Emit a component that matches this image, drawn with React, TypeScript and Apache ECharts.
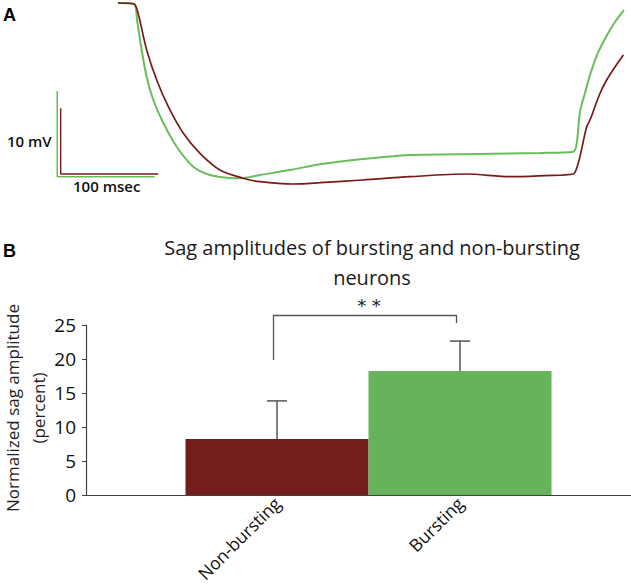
import React, { useEffect, useRef } from "react";
import * as echarts from "echarts";

// ---------- Panel A: voltage traces (time in ms, voltage in mV rel. to rest) ----------
const greenTime = [0, 16.4, 19.5, 24.3, 29.4, 36.2, 46.5, 60.2, 77.2, 94.4, 111.5, 125.1, 145.6, 176.4, 207.2, 248.2, 299.5, 367.9, 432.8, 467, 470.5, 473.8, 479, 484.1, 491.3, 500.5, 509.7, 518.9];
const greenVolt = [0, -0.12, -1.98, -5.48, -8.63, -11.32, -14.0, -16.77, -19.1, -20.07, -20.39, -20.46, -20.07, -19.49, -18.82, -18.24, -17.74, -17.62, -17.5, -17.35, -16.37, -12.72, -10.5, -8.4, -6.07, -3.97, -2.22, -0.82];

const redTime = [0, 16.4, 20.5, 29.4, 39.7, 51.6, 67, 84.1, 104.6, 128.5, 145.6, 179.5, 207.2, 251.3, 299.5, 357.6, 402.1, 437.9, 467, 470.5, 473.8, 480.7, 484.1, 494.4, 501.2, 509.7, 518.3];
const redVolt = [0, -0.15, -1.52, -7.15, -11.72, -15.78, -19.83, -22.88, -25.42, -26.68, -27.2, -27.55, -27.35, -26.94, -26.44, -26.03, -26.44, -26.26, -26.03, -25.11, -23.39, -18.83, -17.81, -13.74, -11.72, -9.74, -7.91];

// scale bars: 10 mV x 100 msec, origin = [time, voltage] of the corner
const scaleBarMV = 10;
const scaleBarMS = 100;
const greenBarOrigin = [-62.3, -20.27];
const redBarOrigin = [-58.8, -26.03];

// ---------- Panel B: bar chart ----------
const categories = ["Non-bursting", "Bursting"];
const means = [8.24, 18.24];
const errors = [5.6, 4.4];
const yTicks = { min: 0, max: 25, interval: 5 };
// significance bracket: [leftCat, rightCat, leftLegBottom, rightLegBottom, top]
const bracket = [0, 1, 19.85, 25.3, 26.4];
const sigLabel = "* *";

const GREEN_LINE = "#6abd5b";
const RED_LINE = "#781a1a";
const GREEN_BAR = "#67b35c";
const RED_BAR = "#731d1d";
const FONT = "Open Sans";

// panel A geometry
const A_H = 188.5;
const GREEN_PX_PER_MV = 8.57;
const RED_PX_PER_MV = 6.57;
const PX_PER_MS = 0.975;
const T_MIN = -70;
const T_MAX = 530;

function zip(a: number[], b: number[]) {
  return a.map((v, i) => [v, b[i]]);
}
function scaleBar(o: number[]) {
  return [
    [o[0], o[1] + scaleBarMV],
    [o[0], o[1]],
    [o[0] + scaleBarMS, o[1]],
  ];
}

export default function App() {
  const ref = useRef<HTMLDivElement>(null);
  useEffect(() => {
    if (!ref.current) return;
    const chart = echarts.init(ref.current, null, { renderer: "svg" });
    const option: any = {
      animation: false,
      backgroundColor: "#ffffff",
      title: {
        text: "Sag amplitudes of bursting and non-bursting\nneurons",
        left: 367,
        top: 227,
        textAlign: "center",
        textStyle: {
          fontFamily: FONT,
          fontSize: 20,
          fontWeight: "normal",
          color: "#1a1a1a",
          lineHeight: 30,
        },
      },
      grid: [
        { left: 118 + T_MIN * PX_PER_MS, top: 3, width: (T_MAX - T_MIN) * PX_PER_MS, height: A_H, outerBoundsMode: "none", containLabel: false },
        { left: 86, top: 325, width: 545, height: 170, outerBoundsMode: "none", containLabel: false },
        { left: 185.5, top: 325, width: 366, height: 170, outerBoundsMode: "none", containLabel: false },
      ],
      xAxis: [
        { type: "value", gridIndex: 0, min: T_MIN, max: T_MAX, show: false },
        {
          type: "value",
          gridIndex: 1,
          min: 0,
          max: 1,
          axisLine: { show: true, lineStyle: { color: "#404040", width: 1.2 } },
          axisTick: { show: false },
          axisLabel: { show: false },
          splitLine: { show: false },
        },
        {
          type: "category",
          gridIndex: 2,
          data: categories,
          axisLine: { show: false },
          axisTick: { show: false },
          axisLabel: {
            rotate: 45,
            margin: 5,
            fontFamily: FONT,
            fontSize: 17.5,
            color: "#111",
            interval: 0,
          },
        },
      ],
      yAxis: [
        { type: "value", gridIndex: 0, min: -A_H / GREEN_PX_PER_MV, max: 0, show: false },
        { type: "value", gridIndex: 0, min: -A_H / RED_PX_PER_MV, max: 0, show: false },
        {
          type: "value",
          gridIndex: 1,
          min: yTicks.min,
          max: yTicks.max,
          interval: yTicks.interval,
          axisLine: { show: true, lineStyle: { color: "#404040", width: 1.2 } },
          axisTick: { show: true, length: 4, lineStyle: { color: "#404040" } },
          axisLabel: { fontFamily: FONT, fontSize: 19, color: "#111", margin: 10 },
          splitLine: { show: false },
        },
        { type: "value", gridIndex: 2, min: yTicks.min, max: yTicks.max, show: false },
      ],
      graphic: [
        { type: "text", left: 3, top: 6, style: { text: "A", font: "bold 18px 'Liberation Sans', Arial", fill: "#000" } },
        { type: "text", left: 3, top: 242, style: { text: "B", font: "bold 18px 'Liberation Sans', Arial", fill: "#000" } },
        { type: "text", left: 7, top: 133, style: { text: "10 mV", font: "600 15px 'Open Sans'", fill: "#111" } },
        { type: "text", left: 73, top: 178, style: { text: "100 msec", font: "600 15px 'Open Sans'", fill: "#111" } },
        {
          type: "text",
          x: 25,
          y: 408,
          rotation: Math.PI / 2,
          style: {
            text: "Normalized sag amplitude\n(percent)",
            font: "17px 'Open Sans'",
            fill: "#222",
            align: "center",
            verticalAlign: "middle",
            lineHeight: 26,
          },
        },
      ],
      series: [
        {
          type: "line",
          xAxisIndex: 0,
          yAxisIndex: 0,
          data: zip(greenTime, greenVolt),
          showSymbol: false,
          smooth: 0.3,
          clip: false,
          lineStyle: { color: GREEN_LINE, width: 2 },
        },
        {
          type: "line",
          xAxisIndex: 0,
          yAxisIndex: 1,
          data: zip(redTime, redVolt),
          showSymbol: false,
          smooth: 0.3,
          clip: false,
          lineStyle: { color: RED_LINE, width: 1.7 },
        },
        {
          type: "line",
          xAxisIndex: 0,
          yAxisIndex: 0,
          data: scaleBar(greenBarOrigin),
          showSymbol: false,
          clip: false,
          lineStyle: { color: GREEN_LINE, width: 1.6 },
        },
        {
          type: "line",
          xAxisIndex: 0,
          yAxisIndex: 1,
          data: scaleBar(redBarOrigin),
          showSymbol: false,
          clip: false,
          lineStyle: { color: RED_LINE, width: 1.4 },
        },
        {
          type: "bar",
          xAxisIndex: 2,
          yAxisIndex: 3,
          barWidth: "100%",
          barCategoryGap: "0%",
          data: means.map((v, i) => ({
            value: v,
            itemStyle: { color: i === 0 ? RED_BAR : GREEN_BAR },
          })),
          z: 2,
        },
        {
          type: "custom",
          xAxisIndex: 2,
          yAxisIndex: 3,
          clip: false,
          z: 5,
          data: means.map((m, i) => [i, m, m + errors[i]]),
          renderItem: (params: any, api: any) => {
            const b = api.coord([api.value(0), api.value(1)]);
            const t = api.coord([api.value(0), api.value(2)]);
            const style = { stroke: "#555", lineWidth: 1.5, fill: "none" };
            return {
              type: "group",
              children: [
                { type: "line", shape: { x1: b[0], y1: b[1], x2: t[0], y2: t[1] }, style },
                { type: "line", shape: { x1: t[0] - 10, y1: t[1], x2: t[0] + 10, y2: t[1] }, style },
              ],
            };
          },
        },
        {
          type: "custom",
          xAxisIndex: 2,
          yAxisIndex: 3,
          clip: false,
          z: 5,
          data: [bracket],
          renderItem: (params: any, api: any) => {
            const l = api.coord([api.value(0), api.value(2)]);
            const r = api.coord([api.value(1), api.value(3)]);
            const top = api.coord([api.value(0), api.value(4)]);
            const dx = -3.5;
            const x1 = l[0] + dx;
            const x2 = r[0] + dx;
            return {
              type: "group",
              children: [
                {
                  type: "polyline",
                  shape: { points: [[x1, l[1]], [x1, top[1]], [x2, top[1]], [x2, r[1]]] },
                  style: { stroke: "#555", lineWidth: 1.3, fill: "none" },
                },
                {
                  type: "text",
                  x: (x1 + x2) / 2 + 4,
                  y: top[1] - 1,
                  style: {
                    text: sigLabel,
                    font: "18px 'DejaVu Sans'",
                    fill: "#222",
                    align: "center",
                    verticalAlign: "bottom",
                  },
                },
              ],
            };
          },
        },
      ],
    };
    chart.setOption(option);
    return () => chart.dispose();
  }, []);
  return (
    <div
      ref={ref}
      style={{ position: "absolute", left: 0, top: 0, width: 631, height: 586, background: "#fff" }}
    />
  );
}
